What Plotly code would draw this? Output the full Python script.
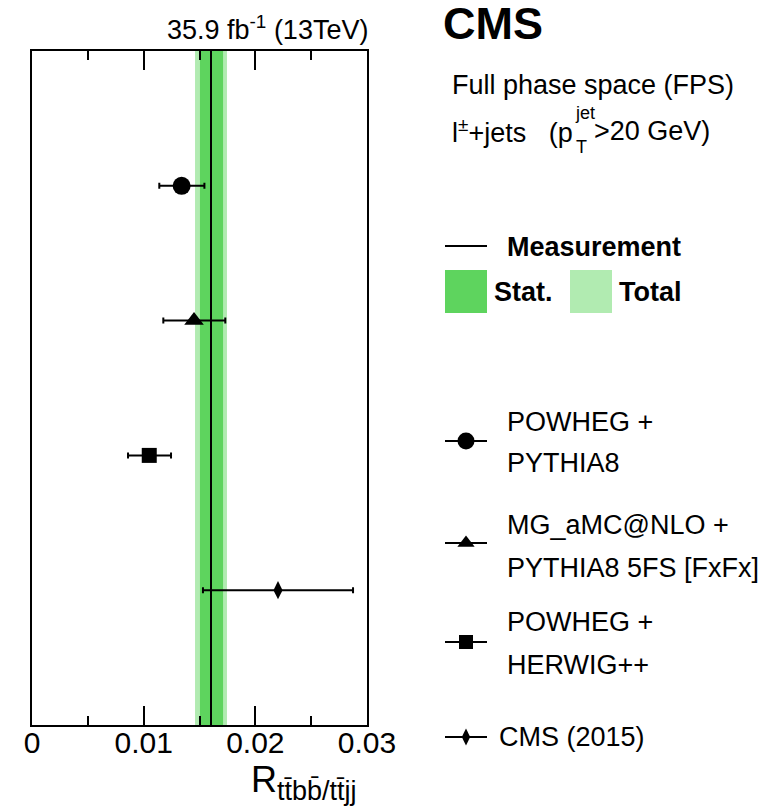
import plotly.graph_objects as go

W, H = 772, 811

# ---------------- data ----------------
model_lines = [["POWHEG +", "PYTHIA8"],
               ["MG_aMC@NLO +", "PYTHIA8 5FS [FxFx]"],
               ["POWHEG +", "HERWIG++"],
               ["CMS (2015)"]]
model_values = [0.01340, 0.01451, 0.01050, 0.02203]
model_low = [0.01140, 0.01176, 0.00860, 0.01531]
model_high = [0.01544, 0.01731, 0.01245, 0.02875]
model_rows = [4, 3, 2, 1]

measurement = 0.01603
stat_band = [0.01504, 0.01711]
total_band = [0.01460, 0.01746]

x_range = [0, 0.03]
x_tickvals = [0, 0.01, 0.02, 0.03]
x_ticktext = ["0", "0.01", "0.02", "0.03"]

# ---------------- style ----------------
FONT = "Liberation Sans"
STAT_C = "#5ed45e"
TOT_C = "#b1ebb1"
symbols = ["circle", "triangle-up", "square", "diamond-tall"]
msizes = [18, 17, 15, 13]
leg_msizes = [17, 15, 14, 12]

PL, PR, PT, PB = 32, 367, 51, 725
LX0 = 430  # left edge of legend overlay area


def px(x):
    return x / W


def py(y):
    return 1 - y / H


fig = go.Figure()

for v, lo, hi, r, s, ms in zip(model_values, model_low, model_high, model_rows, symbols, msizes):
    fig.add_trace(go.Scatter(
        x=[v], y=[r], mode="markers",
        marker=dict(symbol=s, size=ms, color="black", line=dict(width=0)),
        error_x=dict(type="data", symmetric=False, array=[hi - v], arrayminus=[v - lo],
                     color="black", thickness=2, width=3),
        showlegend=False, xaxis="x", yaxis="y"))

shapes = [
    dict(type="rect", xref="x", yref="y domain", x0=total_band[0], x1=total_band[1], y0=0, y1=1,
         fillcolor=TOT_C, line=dict(width=0), layer="below"),
    dict(type="rect", xref="x", yref="y domain", x0=stat_band[0], x1=stat_band[1], y0=0, y1=1,
         fillcolor=STAT_C, line=dict(width=0), layer="below"),
    dict(type="line", xref="x", yref="y domain", x0=measurement, x1=measurement, y0=0, y1=1,
         line=dict(color="black", width=2), layer="below"),
]

# legend (right side)
shapes.append(dict(type="line", xref="paper", yref="paper", x0=px(445), x1=px(487), y0=py(246), y1=py(246),
                   line=dict(color="black", width=2)))
shapes.append(dict(type="rect", xref="paper", yref="paper", x0=px(445), x1=px(487), y0=py(313), y1=py(270),
                   fillcolor=STAT_C, line=dict(width=0)))
shapes.append(dict(type="rect", xref="paper", yref="paper", x0=px(570), x1=px(612), y0=py(313), y1=py(270),
                   fillcolor=TOT_C, line=dict(width=0)))

leg_sym_y = [441, 543, 642, 737]
leg_text_y = [[422, 463], [525, 568], [622, 665], [737]]
for yy, s, ms in zip(leg_sym_y, symbols, leg_msizes):
    shapes.append(dict(type="line", xref="paper", yref="paper", x0=px(445), x1=px(487), y0=py(yy), y1=py(yy),
                       line=dict(color="black", width=2), layer="below"))
    fig.add_trace(go.Scatter(
        x=[466], y=[yy], mode="markers",
        marker=dict(symbol=s, size=ms, color="black", line=dict(width=0)),
        showlegend=False, xaxis="x2", yaxis="y2", hoverinfo="skip"))

ann = []


def text(t, x, y, size=27, anchor="left", yanchor="middle", **kw):
    d = dict(text=t, x=px(x), y=py(y), xref="paper", yref="paper", showarrow=False,
             xanchor=anchor, yanchor=yanchor, font=dict(family=FONT, size=size, color="black"))
    d.update(kw)
    ann.append(d)


text("35.9 fb<sup>-1</sup> (13TeV)", 370, 28, size=27, anchor="right")
text("<b>CMS</b>", 441, 24, size=45)
text("Full phase space (FPS)", 450, 85)
text("l<sup>±</sup>+jets \u00a0\u00a0(p", 450, 131)
text("jet", 573, 113, size=18)
text("T", 574, 147, size=18)
text("&gt;20 GeV)", 592, 131)
text("<b>Measurement</b>", 505, 247)
text("<b>Stat.</b>", 492, 292)
text("<b>Total</b>", 617, 292)
for lines, ys in zip(model_lines, leg_text_y):
    for i, (ln, yy) in enumerate(zip(lines, ys)):
        xx = 505 if len(lines) > 1 else 497
        text(ln, xx, yy)

# axis title: R with subscript
text("R<sub><span style='font-size:27px'>tt\u0304bb\u0304/tt\u0304jj</span></sub>", 249, 808,
     size=36, yanchor="bottom")

fig.update_layout(
    width=W, height=H,
    margin=dict(l=0, r=0, t=0, b=0),
    paper_bgcolor="white", plot_bgcolor="rgba(0,0,0,0)",
    font=dict(family=FONT, color="black"),
    shapes=shapes, annotations=ann, showlegend=False,
    xaxis=dict(domain=[px(PL), px(PR)], range=x_range, showgrid=False, zeroline=False,
               showline=True, linecolor="black", linewidth=2, mirror="ticks",
               ticks="inside", ticklen=19, tickwidth=2, tickcolor="black",
               tickvals=x_tickvals, ticktext=x_ticktext, ticklabelstandoff=-10,
               tickfont=dict(family=FONT, size=30, color="black"),
               minor=dict(ticks="inside", ticklen=9, tickwidth=2, tickcolor="black", dtick=0.005, tick0=0,
                          showgrid=False),
               fixedrange=True, automargin=False),
    yaxis=dict(domain=[py(PB), py(PT)], range=[0, 5], showgrid=False, zeroline=False,
               showline=True, linecolor="black", linewidth=2, mirror=True,
               showticklabels=False, ticks="", fixedrange=True, automargin=False),
    xaxis2=dict(domain=[px(LX0), 1], range=[LX0, W], visible=False, anchor="y2", fixedrange=True),
    yaxis2=dict(domain=[0, 1], range=[H, 0], visible=False, anchor="x2", fixedrange=True),
)

fig.write_html("out.html")
